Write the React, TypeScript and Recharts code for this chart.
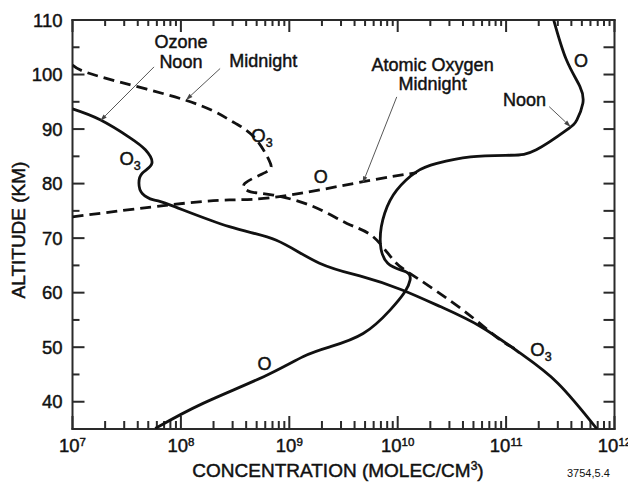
import { LineChart, Line, XAxis, YAxis, ReferenceLine, ReferenceDot, Customized } from 'recharts'

// concentration (molec/cm3) vs altitude (km)
const ozoneNoonConc = [1.0e7, 1.8e7, 3.4e7, 4.7e7, 5.4e7, 4.4e7, 4.1e7, 4.4e7, 5.6e7, 7.9e7, 2.8e8, 7.6e8, 1.9e9, 4.8e9, 1.1e10, 2.5e10, 5.8e10, 1.35e11, 3.0e11, 6.9e11]
const ozoneNoonAlt = [93.7, 91.7, 88.4, 86.2, 83.7, 81.9, 80.1, 78.2, 77.0, 76.1, 72.1, 69.6, 65.4, 62.9, 60.5, 57.4, 53.8, 48.9, 43.4, 35.0]

const ozoneMidConc = [1.0e7, 1.8e7, 1.1e8, 2.8e8, 4.7e8, 6.5e8, 6.2e8, 3.9e8, 4.4e8, 7.1e8, 1.66e9, 3.4e9, 5.9e9, 9.1e9, 1.45e10, 4.0e10, 8.1e10, 1.26e11]
const ozoneMidAlt = [101.75, 99.6, 95.3, 91.7, 88.6, 84.3, 82.2, 80.05, 78.5, 77.9, 75.8, 72.7, 70.3, 66.0, 62.9, 56.8, 51.9, 49.5]

const oxyNoonConc = [2.75e11, 3.6e11, 4.8e11, 5.1e11, 4.5e11, 3.6e11, 1.9e11, 1.1e11, 4.7e10, 2.3e10, 1.5e10, 9.8e9, 7.6e9, 6.9e9, 8.1e9, 1.2e10, 1.3e10, 1.17e10, 8.5e9, 4.8e9, 2.4e9, 1.35e9, 5.8e8, 1.6e8, 5.8e7]
const oxyNoonAlt = [110, 102.7, 97.8, 94.7, 91.7, 89.8, 86.2, 85.2, 84.9, 83.7, 82.2, 78.8, 74.6, 69.7, 65.4, 63.8, 62.3, 60.2, 56.8, 52.5, 50.1, 48.3, 44.6, 39.7, 35.1]

const oxyMidConc = [1.0e7, 7.9e7, 2.8e8, 8.1e8, 4.8e9, 1.5e10]
const oxyMidAlt = [73.9, 76.1, 77.0, 77.6, 80.35, 82.0]

const decades = [7, 8, 9, 10, 11, 12]
const altTicks = [40, 45, 50, 55, 60, 65, 70, 75, 80, 85, 90, 95, 100, 105, 110]

// annotation text and where it sits (conc, alt)
const labelText = ['Ozone', 'Noon', 'Midnight', 'Atomic Oxygen', 'Midnight', 'Noon', 'O', 'O3', 'O3', 'O', 'O', 'O3']
const labelConc = [1.0e8, 1.0e8, 5.75e8, 2.1e10, 2.1e10, 1.48e11, 4.9e11, 3.4e7, 5.6e8, 1.95e9, 5.9e8, 2.1e11]
const labelAlt = [104.9, 101.2, 101.4, 100.6, 97.1, 94.2, 101.4, 83.4, 87.7, 80.05, 45.8, 48.3]

// arrows: from -> to
const arrowFrom = [[5.65e7, 101.4], [2.3e8, 101.1], [9.8e9, 95.9], [2.5e11, 94.1]]
const arrowTo = [[1.8e7, 91.5], [1.11e8, 95.3], [4.75e9, 80.05], [3.95e11, 90.4]]

const toRows = (c: number[], a: number[]) => c.map((v, i) => ({ c: v, a: a[i] }))
const ozoneNoon = toRows(ozoneNoonConc, ozoneNoonAlt)
const ozoneMid = toRows(ozoneMidConc, ozoneMidAlt)
const oxyNoon = toRows(oxyNoonConc, oxyNoonAlt)
const oxyMid = toRows(oxyMidConc, oxyMidAlt)

const logTicks: number[] = []
decades.forEach(d => {
  if (d === 12) { logTicks.push(1e12); return }
  for (let m = 1; m < 10; m++) logTicks.push(m * Math.pow(10, d))
})

const FONT = '"Liberation Sans", Arial, Helvetica, sans-serif'
const INK = '#111'
const AXIS = '#2a2a2a'
const TW = 2 // tick / frame thickness
const TXT = { fontFamily: FONT, fill: INK, stroke: INK, strokeWidth: 0.45 }

const isDecade = (v: number) => Math.abs(Math.log10(v) - Math.round(Math.log10(v))) < 1e-6

// ticks and frame drawn as filled rects
const vbar = (x: number, ya: number, yb: number) =>
  <rect x={x - TW / 2} y={Math.min(ya, yb)} width={TW} height={Math.abs(yb - ya)} fill={AXIS} />
const hbar = (y: number, xa: number, xb: number) =>
  <rect x={Math.min(xa, xb)} y={y - TW / 2} width={Math.abs(xb - xa)} height={TW} fill={AXIS} />

// vertical reference line -> short ticks at bottom and top, plus decade label
const xTickShape = (v: number) => (p: any) => {
  const x = p.x1
  const yb = Math.max(p.y1, p.y2), yt = Math.min(p.y1, p.y2)
  const major = isDecade(v)
  const e = Math.round(Math.log10(v))
  const edge = major && (e === 7 || e === 12)
  return (
    <g>
      {vbar(x, yb, yb - (major ? 13 : 8))}
      {vbar(x, yt, yt + (major ? 12 : 6))}
      {edge && vbar(x, yt - TW / 2, yb + TW / 2)}
      {major && (
        <text x={x} y={yb + 22.7} textAnchor="middle" fontSize={18.5} {...TXT}>
          10<tspan dy={-6} fontSize={11.5}>{e}</tspan>
        </text>
      )}
    </g>
  )
}

// horizontal reference line -> ticks at left and right, plus label
const yTickShape = (v: number) => (p: any) => {
  const y = p.y1
  const xl = Math.min(p.x1, p.x2), xr = Math.max(p.x1, p.x2)
  const major = v % 10 === 0
  return (
    <g>
      {hbar(y, xl, xl + (major ? 12 : 7))}
      {hbar(y, xr, xr - 11)}
      {major && (
        <text x={xl - 10} y={y} dy="0.36em" textAnchor="end" fontSize={18.5} {...TXT}>{v}</text>
      )}
    </g>
  )
}

const frameH = (p: any) => hbar(p.y1, Math.min(p.x1, p.x2) - TW / 2, Math.max(p.x1, p.x2) + TW / 2)

const Arrow = (props: any) => {
  const { x1, y1, x2, y2 } = props
  const ang = Math.atan2(y2 - y1, x2 - x1)
  const L = 7, W = 2.2
  const bx = x2 - L * Math.cos(ang), by = y2 - L * Math.sin(ang)
  const px = -Math.sin(ang) * W, py = Math.cos(ang) * W
  return (
    <g>
      <line x1={x1} y1={y1} x2={bx} y2={by} stroke="#444" strokeWidth={0.9} />
      <polygon points={`${x2},${y2} ${bx + px},${by + py} ${bx - px},${by - py}`} fill="#444" />
    </g>
  )
}

const makeLabel = (text: string) => (props: any) => {
  const { cx, cy } = props
  if (text === 'O3') {
    return (
      <text x={cx} y={cy} textAnchor="middle" fontSize={18.5} {...TXT}>
        O<tspan dy={5} fontSize={12.5}>3</tspan>
      </text>
    )
  }
  return (
    <text x={cx} y={cy} textAnchor="middle" fontSize={18} {...TXT}>{text}</text>
  )
}

const Titles = () => (
  <g>
    <text x={338} y={476.7} textAnchor="middle" fontSize={19} {...TXT}>
      CONCENTRATION (MOLEC/CM<tspan dy={-7} fontSize={12}>3</tspan><tspan dy={7}>)</tspan>
    </text>
    <text transform="translate(18.5,230) rotate(-90)" textAnchor="middle" dy="0.36em" fontSize={19} {...TXT}>
      ALTITUDE (KM)
    </text>
    <text x={567} y={476.5} fontSize={11} fontFamily={FONT} fill={INK}>3754,5.4</text>
  </g>
)

export default function App() {
  const solid = { stroke: INK, strokeWidth: 2.8, dot: false, isAnimationActive: false, type: 'natural' as const, xAxisId: 'b', yAxisId: 'l', dataKey: 'a' }
  const dashed = { ...solid, strokeDasharray: '11 6' }
  const ax = { xAxisId: 'b', yAxisId: 'l', ifOverflow: 'visible' as const }
  return (
    <div style={{ position: 'absolute', left: 0, top: 0, background: '#fff' }}>
      <LineChart width={628} height={486} margin={{ top: 20, right: 13.5, bottom: 57, left: 72.5 }}>
        <XAxis xAxisId="b" dataKey="c" type="number" scale="log" domain={[1e7, 1e12]} allowDataOverflow hide />
        <YAxis yAxisId="l" dataKey="a" type="number" domain={[35, 110]} allowDataOverflow hide />

        {logTicks.map(v => <ReferenceLine key={'xt' + v} {...ax} x={v} shape={xTickShape(v)} />)}
        {altTicks.map(v => <ReferenceLine key={'yt' + v} {...ax} y={v} shape={yTickShape(v)} />)}
        <ReferenceLine key="fb" {...ax} y={35} shape={frameH} />
        <ReferenceLine key="ft" {...ax} y={110} shape={frameH} />

        <Line data={ozoneNoon} {...solid} name="Ozone noon" />
        <Line data={ozoneMid} {...dashed} name="Ozone midnight" />
        <Line data={oxyNoon} {...solid} name="Atomic oxygen noon" />
        <Line data={oxyMid} {...dashed} name="Atomic oxygen midnight" />

        {arrowFrom.map((f, i) => (
          <ReferenceLine key={'ar' + i} {...ax}
            segment={[{ x: f[0], y: f[1] }, { x: arrowTo[i][0], y: arrowTo[i][1] }]} shape={Arrow} />
        ))}
        {labelText.map((t, i) => (
          <ReferenceDot key={'lb' + i} {...ax} x={labelConc[i]} y={labelAlt[i]} r={0} shape={makeLabel(t)} />
        ))}
        <Customized component={Titles} />
      </LineChart>
    </div>
  )
}
